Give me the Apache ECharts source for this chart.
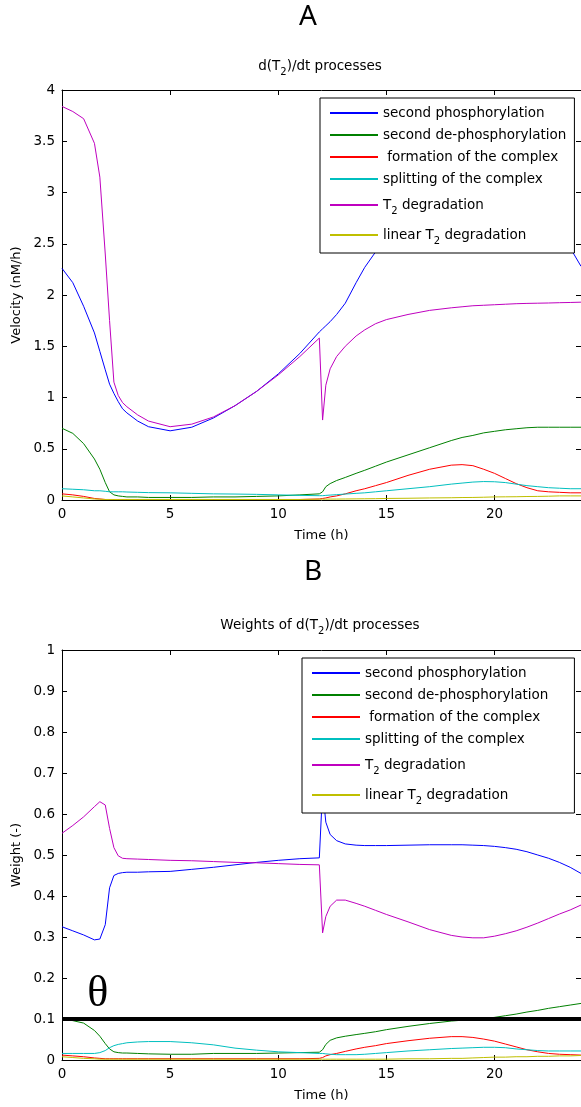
<!DOCTYPE html>
<html>
<head>
<meta charset="utf-8">
<script src="https://cdn.jsdelivr.net/npm/echarts@6/dist/echarts.min.js"></script>
<style>
html,body{margin:0;padding:0;background:#fff;}
#chart{width:581px;height:1107px;}
</style>
</head>
<body>
<div id="chart"></div>
<script>
// ---- data ----
const time = [0, 0.5, 1, 1.5, 1.75, 2, 2.2, 2.4, 2.6, 2.8, 3, 3.5, 4, 5, 6, 7, 8, 9, 10, 11,
  11.9, 12.05, 12.2, 12.4, 12.7, 13.1, 13.6, 14, 14.5, 15, 16, 17, 18, 18.5, 19, 19.5, 20, 20.5,
  21, 21.5, 22, 22.5, 23, 23.5, 24];

const seriesNames = ['second phosphorylation', 'second de-phosphorylation', ' formation of the complex',
  'splitting of the complex', 'T2 degradation', 'linear T2 degradation'];
const seriesColors = ['#0000ff', '#008000', '#ff0000', '#00bfbf', '#bf00bf', '#bfbf00'];

// Panel A: velocities (nM/h)
const velPhos = [2.26, 2.12, 1.89, 1.63, 1.45, 1.27, 1.13, 1.04, 0.96, 0.89, 0.85, 0.77, 0.715, 0.675, 0.71, 0.80, 0.92, 1.06, 1.23, 1.43,
  1.64, 1.67, 1.70, 1.74, 1.81, 1.92, 2.12, 2.27, 2.42, 2.56, 2.80, 2.98, 3.15, 3.22, 3.28, 3.30, 3.30, 3.26,
  3.18, 3.08, 2.95, 2.82, 2.65, 2.46, 2.28];
const velDephos = [0.70, 0.65, 0.55, 0.40, 0.30, 0.17, 0.08, 0.05, 0.04, 0.035, 0.03, 0.03, 0.025, 0.025, 0.025, 0.03, 0.03, 0.035, 0.04, 0.05,
  0.06, 0.08, 0.13, 0.16, 0.19, 0.22, 0.26, 0.29, 0.33, 0.37, 0.44, 0.51, 0.58, 0.61, 0.63, 0.655, 0.67, 0.685,
  0.695, 0.705, 0.71, 0.71, 0.71, 0.71, 0.71];
const velForm = [0.06, 0.05, 0.035, 0.015, 0.01, 0.005, 0.005, 0.005, 0.005, 0.005, 0.005, 0.005, 0.005, 0.005, 0.005, 0.005, 0.005, 0.005, 0.005, 0.005,
  0.01, 0.015, 0.02, 0.03, 0.04, 0.06, 0.09, 0.11, 0.14, 0.17, 0.24, 0.30, 0.34, 0.345, 0.335, 0.30, 0.26, 0.21,
  0.16, 0.12, 0.09, 0.08, 0.075, 0.07, 0.07];
const velSplit = [0.11, 0.105, 0.10, 0.09, 0.09, 0.085, 0.08, 0.08, 0.08, 0.08, 0.078, 0.075, 0.072, 0.07, 0.065, 0.06, 0.058, 0.055, 0.05, 0.045,
  0.042, 0.042, 0.045, 0.048, 0.052, 0.058, 0.065, 0.07, 0.08, 0.09, 0.11, 0.13, 0.155, 0.165, 0.175, 0.18, 0.178, 0.17,
  0.155, 0.14, 0.13, 0.12, 0.115, 0.11, 0.11];
const velDeg = [3.84, 3.79, 3.72, 3.48, 3.15, 2.40, 1.75, 1.15, 1.02, 0.95, 0.91, 0.83, 0.77, 0.715, 0.74, 0.81, 0.92, 1.06, 1.22, 1.40,
  1.58, 0.78, 1.12, 1.28, 1.40, 1.50, 1.60, 1.66, 1.72, 1.76, 1.81, 1.85, 1.875, 1.885, 1.895, 1.90, 1.905, 1.91,
  1.915, 1.918, 1.92, 1.922, 1.925, 1.927, 1.93];
const velLin = [0.04, 0.03, 0.02, 0.01, 0.008, 0.005, 0.005, 0.005, 0.005, 0.005, 0.005, 0.005, 0.005, 0.005, 0.005, 0.005, 0.005, 0.005, 0.005, 0.005,
  0.008, 0.008, 0.008, 0.009, 0.009, 0.01, 0.011, 0.012, 0.013, 0.015, 0.017, 0.02, 0.022, 0.024, 0.025, 0.027, 0.03, 0.031,
  0.032, 0.034, 0.035, 0.037, 0.04, 0.04, 0.04];

// Panel B: weights (-)
const wPhos = [0.325, 0.315, 0.305, 0.293, 0.295, 0.33, 0.42, 0.45, 0.455, 0.457, 0.458, 0.458, 0.459, 0.460, 0.465, 0.470, 0.476, 0.482, 0.487, 0.491,
  0.493, 0.66, 0.58, 0.55, 0.535, 0.527, 0.524, 0.523, 0.523, 0.523, 0.524, 0.525, 0.525, 0.525, 0.524, 0.523, 0.521, 0.518,
  0.514, 0.508, 0.50, 0.492, 0.482, 0.47, 0.455];
const wDephos = [0.099, 0.096, 0.09, 0.072, 0.058, 0.04, 0.027, 0.02, 0.018, 0.017, 0.017, 0.016, 0.015, 0.014, 0.014, 0.016, 0.016, 0.016, 0.017, 0.018,
  0.019, 0.025, 0.038, 0.048, 0.054, 0.058, 0.062, 0.065, 0.069, 0.074, 0.082, 0.089, 0.095, 0.097, 0.099, 0.101, 0.104, 0.108,
  0.112, 0.117, 0.121, 0.126, 0.13, 0.134, 0.138];
const wForm = [0.012, 0.01, 0.008, 0.005, 0.004, 0.003, 0.003, 0.003, 0.003, 0.003, 0.003, 0.003, 0.003, 0.003, 0.003, 0.003, 0.003, 0.003, 0.003, 0.003,
  0.004, 0.006, 0.01, 0.013, 0.016, 0.021, 0.027, 0.031, 0.035, 0.04, 0.047, 0.053, 0.057, 0.057, 0.055, 0.051, 0.046, 0.039,
  0.032, 0.025, 0.02, 0.016, 0.014, 0.013, 0.012];
const wSplit = [0.016, 0.016, 0.016, 0.016, 0.018, 0.023, 0.03, 0.035, 0.038, 0.04, 0.042, 0.044, 0.045, 0.045, 0.042, 0.037, 0.029, 0.024, 0.02, 0.018,
  0.016, 0.016, 0.015, 0.014, 0.013, 0.013, 0.013, 0.014, 0.016, 0.018, 0.022, 0.025, 0.028, 0.029, 0.03, 0.031, 0.031, 0.03,
  0.027, 0.025, 0.023, 0.022, 0.022, 0.022, 0.022];
const wDeg = [0.553, 0.572, 0.593, 0.618, 0.63, 0.622, 0.565, 0.518, 0.498, 0.492, 0.491, 0.49, 0.489, 0.487, 0.486, 0.484, 0.482, 0.481, 0.479, 0.477,
  0.476, 0.31, 0.35, 0.375, 0.39, 0.39, 0.382, 0.375, 0.365, 0.355, 0.337, 0.318, 0.304, 0.30, 0.298, 0.298, 0.302, 0.308,
  0.315, 0.324, 0.334, 0.345, 0.356, 0.366, 0.378];
const wLin = [0.008, 0.006, 0.004, 0.003, 0.002, 0.002, 0.002, 0.002, 0.002, 0.002, 0.002, 0.002, 0.002, 0.002, 0.002, 0.002, 0.002, 0.002, 0.002, 0.002,
  0.002, 0.002, 0.002, 0.002, 0.002, 0.002, 0.002, 0.002, 0.002, 0.002, 0.003, 0.003, 0.004, 0.004, 0.005, 0.006, 0.007, 0.007,
  0.008, 0.008, 0.009, 0.009, 0.01, 0.01, 0.011];

const threshold = 0.1;
const thetaPos = [1.65, 0.16];

const velTicks = {min: 0, max: 4, interval: 0.5};
const wTicks = {min: 0, max: 1, interval: 0.1};
const timeTicks = {min: 0, max: 24, interval: 5};

// ---- chart ----
const FONT = 'DejaVu Sans';
const chart = echarts.init(document.getElementById('chart'), null, {renderer: 'canvas'});

const panelA = [velPhos, velDephos, velForm, velSplit, velDeg, velLin];
const panelB = [wPhos, wDephos, wForm, wSplit, wDeg, wLin];

function pairs(vals) { return time.map((t, i) => [t, vals[i]]); }

const richSubTitle = {sub: {fontSize: 10, fontFamily: FONT, padding: [12, 0, 0, 0], color: '#000'}};
const richSubLegend = {sub: {fontSize: 10, fontFamily: FONT, padding: [12, 0, 0, 0], lineHeight: 22, color: '#000'}};

function legendFor(p) {
  return {
    orient: 'vertical',
    left: p === 0 ? 320 : 302,
    top: p === 0 ? 98 : 658,
    data: seriesNames,
    padding: p === 0 ? [8, 8, 7, 9] : [8, 26, 7, 9],
    itemGap: 8,
    itemWidth: 48,
    itemHeight: 2,
    itemStyle: {opacity: 0},
    borderColor: '#000',
    borderWidth: 1,
    borderRadius: 0,
    backgroundColor: '#fff',
    z: 20,
    selectedMode: false,
    formatter: n => n.replace('T2', 'T{sub|2}'),
    textStyle: {fontFamily: FONT, fontSize: 13.5, color: '#000', rich: richSubLegend}
  };
}

function xAxes(g) {
  const base = {
    type: 'value', gridIndex: g, min: timeTicks.min, max: timeTicks.max, interval: timeTicks.interval,
    axisLine: {show: true, onZero: false, lineStyle: {color: '#000', width: 1}},
    axisTick: {show: true, inside: true, length: 5, lineStyle: {color: '#000'}},
    splitLine: {show: false}
  };
  return [
    Object.assign({}, base, {position: 'bottom',
      axisLabel: {show: true, color: '#000', fontFamily: FONT, fontSize: 13.5, margin: 7, showMaxLabel: false},
      name: 'Time (h)', nameLocation: 'middle', nameGap: 29,
      nameTextStyle: {color: '#000', fontFamily: FONT, fontSize: 13}}),
    Object.assign({}, base, {position: 'top', axisLabel: {show: false}})
  ];
}

function yAxes(g, ticks, name) {
  const base = {
    type: 'value', gridIndex: g, min: ticks.min, max: ticks.max, interval: ticks.interval,
    axisLine: {show: true, onZero: false, lineStyle: {color: '#000', width: 1}},
    axisTick: {show: true, inside: true, length: 5, lineStyle: {color: '#000'}},
    splitLine: {show: false}
  };
  return [
    Object.assign({}, base, {position: 'left',
      axisLabel: {show: true, color: '#000', fontFamily: FONT, fontSize: 13.5, margin: 7},
      name: name, nameLocation: 'middle', nameGap: 35,
      nameTextStyle: {color: '#000', fontFamily: FONT, fontSize: 13}}),
    Object.assign({}, base, {position: 'right', axisLabel: {show: false}})
  ];
}

const series = [];
panelA.forEach((vals, i) => {
  series.push({
    type: 'line', name: seriesNames[i], xAxisIndex: 0, yAxisIndex: 0,
    data: pairs(vals), symbol: 'none', showSymbol: false,
    lineStyle: {color: seriesColors[i], width: 1}, itemStyle: {color: seriesColors[i]},
    z: 3
  });
});
panelB.forEach((vals, i) => {
  const s = {
    type: 'line', name: seriesNames[i], xAxisIndex: 2, yAxisIndex: 2,
    data: pairs(vals), symbol: 'none', showSymbol: false,
    lineStyle: {color: seriesColors[i], width: 1}, itemStyle: {color: seriesColors[i]},
    z: 3
  };
  if (i === 5) {
    s.markLine = {
      silent: true, symbol: ['none', 'none'],
      lineStyle: {color: '#000', width: 4, type: 'solid'},
      label: {show: false},
      data: [{yAxis: threshold}]
    };
    s.markPoint = {
      silent: true, symbol: 'circle', symbolSize: 0,
      label: {show: true, formatter: 'θ', position: 'inside', color: '#000',
        fontFamily: 'Liberation Serif', fontSize: 44},
      data: [{coord: thetaPos}]
    };
  }
  series.push(s);
});

const option = {
  animation: false,
  backgroundColor: '#fff',
  title: [
    {text: 'A', left: 308, top: 3, textAlign: 'center', padding: 0,
      textStyle: {fontFamily: 'Noto Sans', fontSize: 28, fontWeight: 'normal', color: '#000'}},
    {text: 'd(T{sub|2})/dt processes', left: 320, top: 55, textAlign: 'center', padding: 0,
      textStyle: {fontFamily: FONT, fontSize: 13.5, fontWeight: 'normal', color: '#000', rich: richSubTitle}},
    {text: 'B', left: 313, top: 558, textAlign: 'center', padding: 0,
      textStyle: {fontFamily: 'Noto Sans', fontSize: 28, fontWeight: 'normal', color: '#000'}},
    {text: 'Weights of d(T{sub|2})/dt processes', left: 320, top: 614, textAlign: 'center', padding: 0,
      textStyle: {fontFamily: FONT, fontSize: 13.5, fontWeight: 'normal', color: '#000', rich: richSubTitle}}
  ],
  legend: [legendFor(0), legendFor(1)],
  grid: [
    {left: 62, top: 90, width: 522, height: 410},
    {left: 62, top: 650, width: 522, height: 410}
  ],
  xAxis: xAxes(0).concat(xAxes(1)),
  yAxis: yAxes(0, velTicks, 'Velocity (nM/h)').concat(yAxes(1, wTicks, 'Weight (-)')),
  series: series
};
chart.setOption(option);
</script>
</body>
</html>
